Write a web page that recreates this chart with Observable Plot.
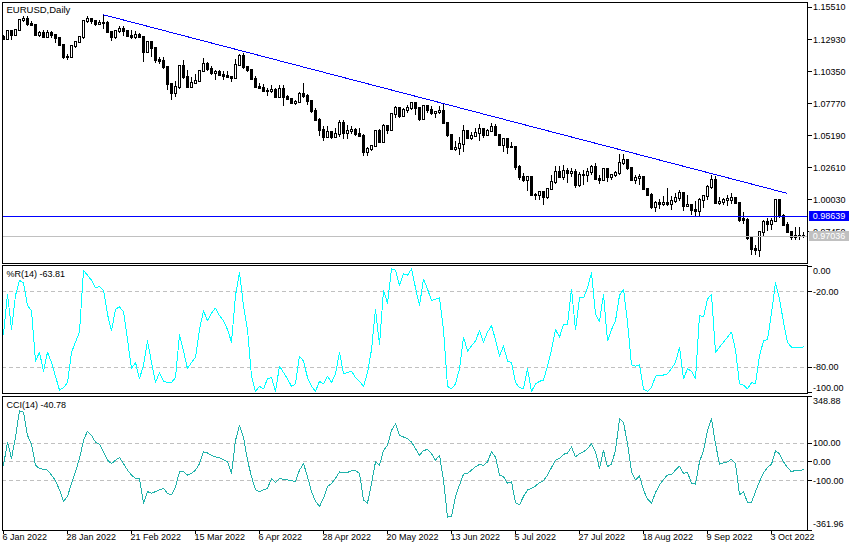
<!DOCTYPE html>
<html><head><meta charset="utf-8">
<script src="https://cdn.jsdelivr.net/npm/d3@7"></script>
<script src="https://cdn.jsdelivr.net/npm/@observablehq/plot@0.6"></script>
<style>
html,body{margin:0;padding:0;background:#fff;}
#chart{position:relative;width:860px;height:550px;overflow:hidden;background:#fff;font-family:"Liberation Sans",Arial,sans-serif;}
#chart svg{position:absolute;left:0;overflow:visible;}
#chart svg rect,#chart svg line,#chart svg path{shape-rendering:crispEdges;}
.box{position:absolute;left:809px;width:40px;height:10px;font-size:9px;line-height:10px;color:#fff;text-align:center;}
</style></head><body><div id="chart"></div>
<script>
// ---- Daily EURUSD candles (bar index 0 = 6 Jan 2022) ----
const open=[1.1312,1.1296,1.1358,1.1325,1.1367,1.1443,1.1455,1.1413,1.1408,1.1325,1.1343,1.1311,1.1345,1.1326,1.1302,1.1243,1.1145,1.1146,1.1236,1.1270,
1.1307,1.1441,1.1454,1.1440,1.1417,1.1422,1.1420,1.1348,1.1308,1.1358,1.1375,1.1362,1.1322,1.1310,1.1330,1.1308,1.1190,1.1272,1.1220,1.1125,
1.1120,1.1065,1.0930,1.0855,1.0904,1.1074,1.0987,1.0911,1.0940,1.0955,1.1034,1.1093,1.1050,1.1016,1.1030,1.1005,1.0998,1.0985,1.0982,1.1087,
1.1157,1.1066,1.1046,1.0972,1.0905,1.0900,1.0878,1.0876,1.0885,1.0828,1.0890,1.0826,1.0810,1.0780,1.0785,1.0852,1.0836,1.0795,1.0712,1.0640,
1.0560,1.0500,1.0544,1.0507,1.0525,1.0620,1.0540,1.0550,1.0560,1.0530,1.0515,1.0380,1.0410,1.0435,1.0550,1.0465,1.0590,1.0563,1.0690,1.0735,
1.0675,1.0725,1.0735,1.0780,1.0735,1.0650,1.0750,1.0720,1.0695,1.0705,1.0716,1.0616,1.0518,1.0410,1.0415,1.0445,1.0550,1.0495,1.0510,1.0535,
1.0565,1.0520,1.0555,1.0585,1.0520,1.0442,1.0484,1.0425,1.0425,1.0265,1.0180,1.0160,1.0185,1.0035,1.0037,1.0060,1.0020,1.0085,1.0140,1.0225,
1.0180,1.0230,1.0212,1.0225,1.0120,1.0200,1.0195,1.0220,1.0260,1.0165,1.0160,1.0245,1.0180,1.0195,1.0210,1.0298,1.0320,1.0258,1.0160,1.0170,
1.0180,1.0085,1.0040,0.9940,0.9970,0.9965,0.9970,0.9965,0.9990,1.0010,1.0050,0.9945,0.9955,0.9915,0.9905,0.9996,1.0030,1.0100,1.0155,0.9970,
0.9980,0.9995,0.9995,1.0015,0.9970,0.9840,0.9835,0.9688,0.9605,0.9590,0.9735,0.9815,0.9800,0.9825,0.9995,0.9865,0.9795,0.9740,0.9700,0.9705,0.9704];
const high=[1.1330,1.1370,1.1364,1.1375,1.1455,1.1482,1.1483,1.1440,1.1415,1.1360,1.1370,1.1365,1.1355,1.1330,1.1305,1.1250,1.1175,1.1245,1.1280,1.1310,
1.1450,1.1483,1.1465,1.1443,1.1448,1.1494,1.1440,1.1352,1.1368,1.1395,1.1395,1.1370,1.1365,1.1360,1.1345,1.1310,1.1275,1.1275,1.1230,1.1150,
1.1150,1.1070,1.0935,1.0955,1.1085,1.1121,1.1040,1.0985,1.1015,1.1045,1.1137,1.1110,1.1075,1.1045,1.1043,1.1035,1.1035,1.0990,1.1135,1.1170,
1.1185,1.1076,1.1052,1.0995,1.0937,1.0935,1.0900,1.0920,1.0900,1.0925,1.0925,1.0840,1.0815,1.0800,1.0865,1.0936,1.0850,1.0800,1.0740,1.0655,
1.0590,1.0590,1.0545,1.0575,1.0640,1.0642,1.0600,1.0590,1.0575,1.0578,1.0530,1.0425,1.0440,1.0555,1.0565,1.0605,1.0600,1.0695,1.0750,1.0740,
1.0735,1.0765,1.0787,1.0785,1.0740,1.0755,1.0765,1.0750,1.0715,1.0750,1.0774,1.0625,1.0530,1.0475,1.0505,1.0600,1.0560,1.0545,1.0580,1.0605,
1.0580,1.0570,1.0615,1.0605,1.0530,1.0485,1.0485,1.0465,1.0430,1.0275,1.0215,1.0190,1.0190,1.0055,1.0065,1.0065,1.0095,1.0200,1.0270,1.0270,
1.0275,1.0255,1.0255,1.0248,1.0220,1.0235,1.0255,1.0275,1.0295,1.0200,1.0255,1.0250,1.0205,1.0230,1.0370,1.0368,1.0330,1.0265,1.0200,1.0202,
1.0190,1.0095,1.0050,0.9985,1.0005,1.0030,1.0090,1.0025,1.0055,1.0080,1.0055,1.0035,0.9960,0.9990,1.0010,1.0040,1.0115,1.0198,1.0186,1.0020,
1.0015,1.0035,1.0050,1.0020,0.9975,0.9900,0.9850,0.9690,0.9630,0.9750,0.9835,0.9855,0.9855,0.9999,1.0000,0.9885,0.9820,0.9750,0.9780,0.9775,0.9735];
const low=[1.1285,1.1285,1.1285,1.1315,1.1355,1.1430,1.1400,1.1395,1.1315,1.1310,1.1300,1.1300,1.1300,1.1265,1.1235,1.1135,1.1121,1.1140,1.1225,1.1260,
1.1295,1.1420,1.1415,1.1395,1.1405,1.1375,1.1340,1.1280,1.1290,1.1340,1.1315,1.1315,1.1290,1.1290,1.1300,1.1106,1.1180,1.1150,1.1100,1.1090,
1.1050,1.0880,1.0805,1.0830,1.0890,1.0975,1.0905,1.0905,1.0930,1.0945,1.1030,1.1035,1.1000,1.0960,1.0995,1.0965,1.0980,1.0945,1.0980,1.1080,
1.1055,1.1027,1.0965,1.0900,1.0890,1.0875,1.0835,1.0855,1.0820,1.0818,1.0757,1.0800,1.0770,1.0758,1.0780,1.0820,1.0765,1.0697,1.0635,1.0515,
1.0470,1.0495,1.0490,1.0495,1.0505,1.0490,1.0485,1.0525,1.0510,1.0505,1.0350,1.0350,1.0390,1.0425,1.0460,1.0460,1.0530,1.0555,1.0660,1.0660,
1.0665,1.0700,1.0725,1.0680,1.0630,1.0645,1.0700,1.0685,1.0655,1.0690,1.0610,1.0505,1.0397,1.0395,1.0360,1.0380,1.0485,1.0480,1.0505,1.0470,
1.0495,1.0510,1.0550,1.0515,1.0435,1.0380,1.0365,1.0415,1.0235,1.0160,1.0145,1.0070,1.0030,0.9998,0.9998,0.9952,1.0005,1.0080,1.0125,1.0180,
1.0155,1.0130,1.0185,1.0095,1.0100,1.0115,1.0145,1.0200,1.0155,1.0125,1.0150,1.0140,1.0160,1.0180,1.0200,1.0275,1.0235,1.0150,1.0125,1.0120,
1.0075,1.0035,0.9925,0.9900,0.9925,0.9950,0.9950,0.9915,0.9975,0.9990,0.9910,0.9940,0.9875,0.9865,0.9865,0.9930,1.0000,1.0085,0.9965,0.9955,
0.9955,0.9945,0.9965,0.9960,0.9815,0.9805,0.9670,0.9550,0.9555,0.9535,0.9700,0.9750,0.9755,0.9820,0.9855,0.9790,0.9730,0.9670,0.9675,0.9670,0.9690];
const close=[1.1296,1.1358,1.1325,1.1367,1.1443,1.1455,1.1413,1.1408,1.1325,1.1343,1.1311,1.1345,1.1326,1.1302,1.1243,1.1145,1.1146,1.1236,1.1270,1.1307,
1.1441,1.1454,1.1440,1.1417,1.1422,1.1420,1.1348,1.1308,1.1358,1.1375,1.1362,1.1322,1.1310,1.1330,1.1308,1.1190,1.1272,1.1220,1.1125,1.1120,
1.1065,1.0930,1.0855,1.0904,1.1074,1.0987,1.0911,1.0940,1.0955,1.1034,1.1093,1.1050,1.1016,1.1030,1.1005,1.0998,1.0985,1.0982,1.1087,1.1157,
1.1066,1.1046,1.0972,1.0905,1.0900,1.0878,1.0876,1.0885,1.0828,1.0890,1.0826,1.0810,1.0780,1.0785,1.0852,1.0836,1.0795,1.0712,1.0640,1.0560,
1.0500,1.0544,1.0507,1.0525,1.0620,1.0540,1.0550,1.0560,1.0530,1.0515,1.0380,1.0410,1.0435,1.0550,1.0465,1.0590,1.0563,1.0690,1.0735,1.0675,
1.0725,1.0735,1.0780,1.0735,1.0650,1.0750,1.0720,1.0695,1.0705,1.0716,1.0616,1.0518,1.0410,1.0415,1.0445,1.0550,1.0495,1.0510,1.0535,1.0565,
1.0520,1.0555,1.0585,1.0520,1.0442,1.0484,1.0425,1.0425,1.0265,1.0180,1.0160,1.0185,1.0035,1.0037,1.0060,1.0020,1.0085,1.0140,1.0225,1.0180,
1.0230,1.0212,1.0225,1.0120,1.0200,1.0195,1.0220,1.0260,1.0165,1.0160,1.0245,1.0180,1.0195,1.0210,1.0298,1.0320,1.0258,1.0160,1.0170,1.0180,
1.0085,1.0040,0.9940,0.9970,0.9965,0.9970,0.9965,0.9990,1.0010,1.0050,0.9945,0.9955,0.9915,0.9905,0.9995,1.0030,1.0100,1.0155,0.9970,0.9980,
0.9995,1.0005,1.0015,0.9970,0.9835,0.9835,0.9688,0.9605,0.9590,0.9735,0.9815,0.9800,0.9825,0.9995,0.9865,0.9795,0.9740,0.9700,0.9705,0.9704,0.97036];

// ---- Williams %R(14) ----
const wpr=[-54,-22,-50,-23,-11,-13,-31,-35,-75,-68,-83,-68,-76,-87,-98,-96,-92,-68,-60,-52,
-3,-7,-11,-17,-16,-19,-38,-51,-34,-32,-36,-58,-81,-76,-89,-78,-59,-76,-92,-84,
-91,-92,-92,-88,-54,-67,-81,-76,-72,-50,-35,-43,-37,-33,-39,-43,-50,-60,-23,-5,
-31,-50,-87,-99,-95,-97,-89,-88,-99,-79,-84,-89,-95,-93,-71,-75,-88,-95,-99,-91,
-93,-87,-92,-85,-68,-85,-84,-83,-88,-91,-95,-84,-66,-34,-62,-19,-29,-2,-3,-15,
-6,-7,-2,-17,-31,-10,-18,-27,-26,-25,-50,-95,-97,-93,-81,-56,-67,-63,-59,-51,
-60,-52,-47,-58,-71,-63,-75,-76,-92,-96,-97,-81,-99,-93,-91,-90,-79,-66,-50,-56,
-46,-46,-18,-50,-25,-25,-17,-5,-38,-44,-22,-59,-50,-43,-23,-18,-44,-78,-79,-78,
-97,-99,-96,-87,-86,-86,-85,-81,-76,-64,-89,-81,-83,-89,-39,-40,-26,-22,-68,-64,
-60,-56,-52,-66,-93,-94,-97,-92,-93,-71,-59,-58,-37,-13,-26,-44,-60,-64,-64,-64,-63.81];

// ---- CCI(14) ----
const cci=[-18,105,18,132,272,263,140,96,-18,-35,-40,-44,-70,-100,-149,-210,-184,-114,-53,18,
114,163,140,105,93,53,9,-9,9,23,-9,-44,-70,-88,-88,-219,-158,-167,-158,-149,
-140,-167,-175,-132,-53,-53,-70,-61,-44,-9,53,47,35,26,21,12,0,-61,114,193,
132,9,-79,-149,-158,-149,-140,-88,-110,-88,-93,-96,-100,-105,-44,-9,-79,-158,-210,-237,
-193,-132,-114,-88,-53,-58,-56,-47,-47,-61,-202,-219,-114,0,-18,61,88,167,202,140,
132,123,105,70,35,61,65,44,9,35,-96,-293,-289,-184,-123,-65,-61,-44,-26,-14,
-18,0,53,26,-70,-79,-114,-105,-216,-228,-184,-149,-140,-128,-110,-100,-70,-30,9,18,
40,47,79,26,44,53,70,96,53,-35,61,-26,-12,61,228,210,96,-53,-96,-75,
-149,-198,-219,-163,-123,-93,-70,-67,-44,-23,-61,-56,-114,-118,0,61,167,228,96,-12,
-5,0,14,-9,-175,-158,-216,-216,-158,-105,-58,-30,-12,58,44,0,-30,-53,-44,-47,-40.78];

// ---- axes, levels, objects ----
const priceTicks=[1.1551,1.1293,1.1035,1.0777,1.0519,1.0261,1.0003,0.9745];
const dateTickBars=[0,16,32,48,64,80,96,112,128,144,160,176,192];
const dateTickLabels=["6 Jan 2022","28 Jan 2022","21 Feb 2022","15 Mar 2022","6 Apr 2022","28 Apr 2022","20 May 2022","13 Jun 2022","5 Jul 2022","27 Jul 2022","18 Aug 2022","9 Sep 2022","3 Oct 2022"];
const trendBars=[25,195.8];
const trendPrices=[1.1493,1.0055];
const hLinePrice=0.98639;
const bidPrice=0.97036;
const wprLevels=[-20,-80];
const wprLabels=[0,-20,-80,-100];
const cciLevels=[100,0,-100];
const cciLabels=[348.88,100,0,-100,-361.96];
const wprName="%R(14) -63.81";
const cciName="CCI(14) -40.78";
const title="EURUSD,Daily";

const bars=close.map((c,i)=>({i,o:open[i],h:high[i],l:low[i],c}));
const trend=trendBars.map((b,k)=>({i:b,p:trendPrices[k]}));
const W=860, ML=2, MR=53.5;
const xDomain=[-0.25,200.875];
const style={fontFamily:"Liberation Sans, Arial, sans-serif",fontSize:"9px",color:"black",background:"transparent",overflow:"visible"};
const root=document.getElementById("chart");

const p1=Plot.plot({
  width:W,height:265,marginLeft:ML,marginRight:MR,marginTop:2,marginBottom:2.5,
  x:{domain:xDomain,axis:null},
  y:{domain:[0.94925,1.15921]},
  style,
  marks:[
    Plot.ruleX(bars,{x:"i",y1:"l",y2:"h",stroke:"black",strokeWidth:1}),
    Plot.rect(bars.filter(d=>d.c>=d.o),{x1:d=>d.i-0.25,x2:d=>d.i+0.25,y1:"o",y2:"c",fill:"white",stroke:"black",strokeWidth:1,insetTop:-0.5,insetBottom:-0.5}),
    Plot.rect(bars.filter(d=>d.c<d.o),{x1:d=>d.i-0.25,x2:d=>d.i+0.25,y1:"o",y2:"c",fill:"black",stroke:"black",strokeWidth:1,insetTop:-0.5,insetBottom:-0.5}),
    Plot.ruleY([bidPrice],{stroke:"#c0c0c0"}),
    Plot.ruleY([hLinePrice],{stroke:"#0000ff"}),
    Plot.line(trend,{x:"i",y:"p",stroke:"#0000ff",strokeWidth:1}),
    Plot.axisY({anchor:"right",ticks:priceTicks,tickFormat:d=>d.toFixed(5),tickSize:4,tickPadding:2,fontSize:9}),
    Plot.frame({stroke:"black"}),
    Plot.text([title],{frameAnchor:"top-left",dx:4,dy:4,lineAnchor:"top",textAnchor:"start",fontSize:9.5,fill:"black"})
  ]
});
p1.style.top="0px";
root.appendChild(p1);

const p2=Plot.plot({
  width:W,height:129,marginLeft:ML,marginRight:MR,marginTop:0.5,marginBottom:0.3,
  x:{domain:xDomain,axis:null},
  y:{domain:[-100.4,1.1]},
  style,
  marks:[
    Plot.ruleY(wprLevels,{stroke:"#c0c0c0",strokeDasharray:"4,3"}),
    Plot.line(wpr,{x:(d,i)=>i,y:d=>d,stroke:"#00ffff",strokeWidth:1}),
    Plot.axisY({anchor:"right",ticks:wprLabels,tickFormat:()=>"",tickSize:4}),
    Plot.text(wprLabels.slice(0,1),{y:d=>d,frameAnchor:"right",dx:6,dy:4.6,textAnchor:"start",text:d=>d.toFixed(2),fontSize:9,fill:"black"}),
    Plot.text(wprLabels.slice(1,3),{y:d=>d,frameAnchor:"right",dx:6,textAnchor:"start",text:d=>d.toFixed(2),fontSize:9,fill:"black"}),
    Plot.text(wprLabels.slice(3),{y:d=>d,frameAnchor:"right",dx:6,dy:-4.5,textAnchor:"start",text:d=>d.toFixed(2),fontSize:9,fill:"black"}),
    Plot.frame({stroke:"black"}),
    Plot.text([wprName],{frameAnchor:"top-left",dx:4,dy:6,lineAnchor:"top",textAnchor:"start",fontSize:9,fill:"black"})
  ]
});
p2.style.top="264px";
root.appendChild(p2);

const p3=Plot.plot({
  width:W,height:155,marginLeft:ML,marginRight:MR,marginTop:0.7,marginBottom:20.5,
  x:{domain:xDomain},
  y:{domain:[-361.96,348.88]},
  style,
  marks:[
    Plot.ruleY(cciLevels,{stroke:"#c0c0c0",strokeDasharray:"4,3"}),
    Plot.line(cci,{x:(d,i)=>i,y:d=>d,stroke:"#20b2aa",strokeWidth:1}),
    Plot.axisY({anchor:"right",ticks:cciLabels,tickFormat:()=>"",tickSize:4}),
    Plot.text(cciLabels.slice(0,1),{y:d=>d,frameAnchor:"right",dx:6,dy:4.5,textAnchor:"start",text:d=>d.toFixed(2),fontSize:9,fill:"black"}),
    Plot.text(cciLabels.slice(1,4),{y:d=>d,frameAnchor:"right",dx:6,textAnchor:"start",text:d=>d.toFixed(2),fontSize:9,fill:"black"}),
    Plot.text(cciLabels.slice(4),{y:d=>d,frameAnchor:"right",dx:6,dy:-6,textAnchor:"start",text:d=>d.toFixed(2),fontSize:9,fill:"black"}),
    Plot.axisX({anchor:"bottom",ticks:dateTickBars,tickFormat:()=>"",tickSize:4}),
    Plot.text(dateTickBars,{x:d=>d,frameAnchor:"bottom",dy:4,dx:-1,lineAnchor:"top",textAnchor:"start",text:(d,i)=>dateTickLabels[i],fontSize:9,fill:"black"}),
    Plot.frame({stroke:"black"}),
    Plot.text([cciName],{frameAnchor:"top-left",dx:4,dy:5,lineAnchor:"top",textAnchor:"start",fontSize:9,fill:"black"})
  ]
});
p3.style.top="395px";
root.appendChild(p3);

// price label boxes on the right axis
const ys=p1.scale("y");
[[hLinePrice,"#0000ff"],[bidPrice,"#c0c0c0"]].forEach(([v,col])=>{
  const d=document.createElement("div");
  d.className="box";
  d.style.background=col;
  d.style.top=(ys.apply(v)-5)+"px";
  d.textContent=v.toFixed(5);
  root.appendChild(d);
});
</script></body></html>
